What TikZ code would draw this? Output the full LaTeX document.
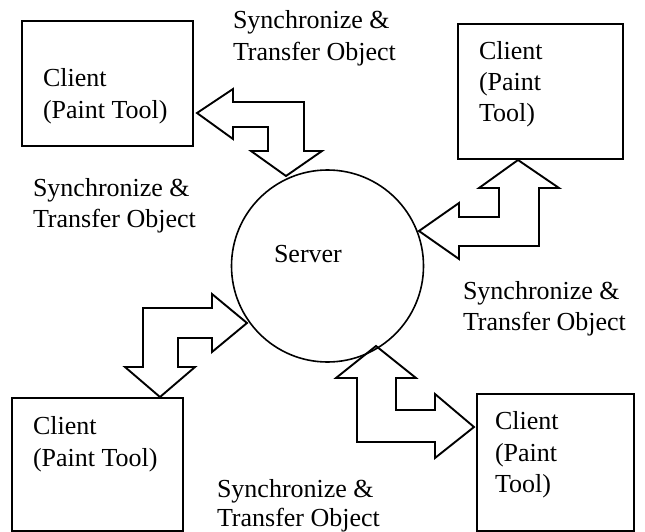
\documentclass[tikz,border=0pt]{standalone}
\usepackage{fontspec}
\setmainfont{Liberation Serif}
\begin{document}
\begin{tikzpicture}[x=1pt,y=-1pt,
  every node/.style={inner sep=0pt, outer sep=0pt},
  client/.style={draw, line width=1.9pt, rectangle},
  server/.style={draw, line width=1.6pt, circle},
  txt/.style={anchor=base west, font=\fontsize{26}{32}\selectfont},
  blockarrow/.style={draw, line width=1.9pt, line join=miter}]
\useasboundingbox (0,0) rectangle (645,532);

% clients
\node[client, minimum width=171pt, minimum height=125pt] (c1) at (107.5,83.5) {};
\node[client, minimum width=165pt, minimum height=135pt] (c2) at (540.5,91.5) {};
\node[client, minimum width=171pt, minimum height=133pt] (c3) at (97.5,464.5) {};
\node[client, minimum width=157pt, minimum height=137pt] (c4) at (555.5,462.5) {};

% server
\node[server, minimum size=192pt] (srv) at (327.5,266) {};
\node[txt] (srvt) at (274,262) {Server};

% client captions
\node[txt] (c1a) at (43,87) {Client};
\node[txt] (c1b) at (43,119) {(Paint Tool)};
\node[txt] (c2a) at (479,60) {Client};
\node[txt] (c2b) at (479,91) {(Paint};
\node[txt] (c2c) at (479,122) {Tool)};
\node[txt] (c3a) at (33,434) {Client};
\node[txt] (c3b) at (33,466) {(Paint Tool)};
\node[txt] (c4a) at (495,429) {Client};
\node[txt] (c4b) at (495,461) {(Paint};
\node[txt] (c4c) at (495,492) {Tool)};

% labels of the links
\node[txt] (l1a) at (233,29) {Synchronize \&};
\node[txt] (l1b) at (233,61) {Transfer Object};
\node[txt] (l2a) at (33,196) {Synchronize \&};
\node[txt] (l2b) at (33,227) {Transfer Object};
\node[txt] (l3a) at (463,299) {Synchronize \&};
\node[txt] (l3b) at (463,330) {Transfer Object};
\node[txt] (l4a) at (217,497) {Synchronize \&};
\node[txt] (l4b) at (217,526) {Transfer Object};

% bent two-headed block arrows between server and clients
\draw[blockarrow] (197,113) -- (233,89) -- (233,102) -- (304,102) -- (304,151)
  -- (322,151) -- (286,176) -- (251,151) -- (268,151) -- (268,127)
  -- (233,127) -- (233,139) -- cycle;
\draw[blockarrow] (518,160) -- (559,188) -- (539,188) -- (539,246) -- (459,246)
  -- (459,259) -- (419,231) -- (459,203) -- (459,217) -- (499,217)
  -- (499,188) -- (479,188) -- cycle;
\draw[blockarrow] (247,323) -- (212,352) -- (212,338) -- (178,338) -- (178,367)
  -- (195,367) -- (160,397) -- (125,367) -- (143,367) -- (143,308)
  -- (212,308) -- (212,294) -- cycle;
\draw[blockarrow] (376,346) -- (416,378) -- (396,378) -- (396,410) -- (435,410)
  -- (435,394) -- (474,427) -- (435,458) -- (435,442) -- (357,442)
  -- (357,378) -- (336,378) -- cycle;
\end{tikzpicture}
\end{document}
